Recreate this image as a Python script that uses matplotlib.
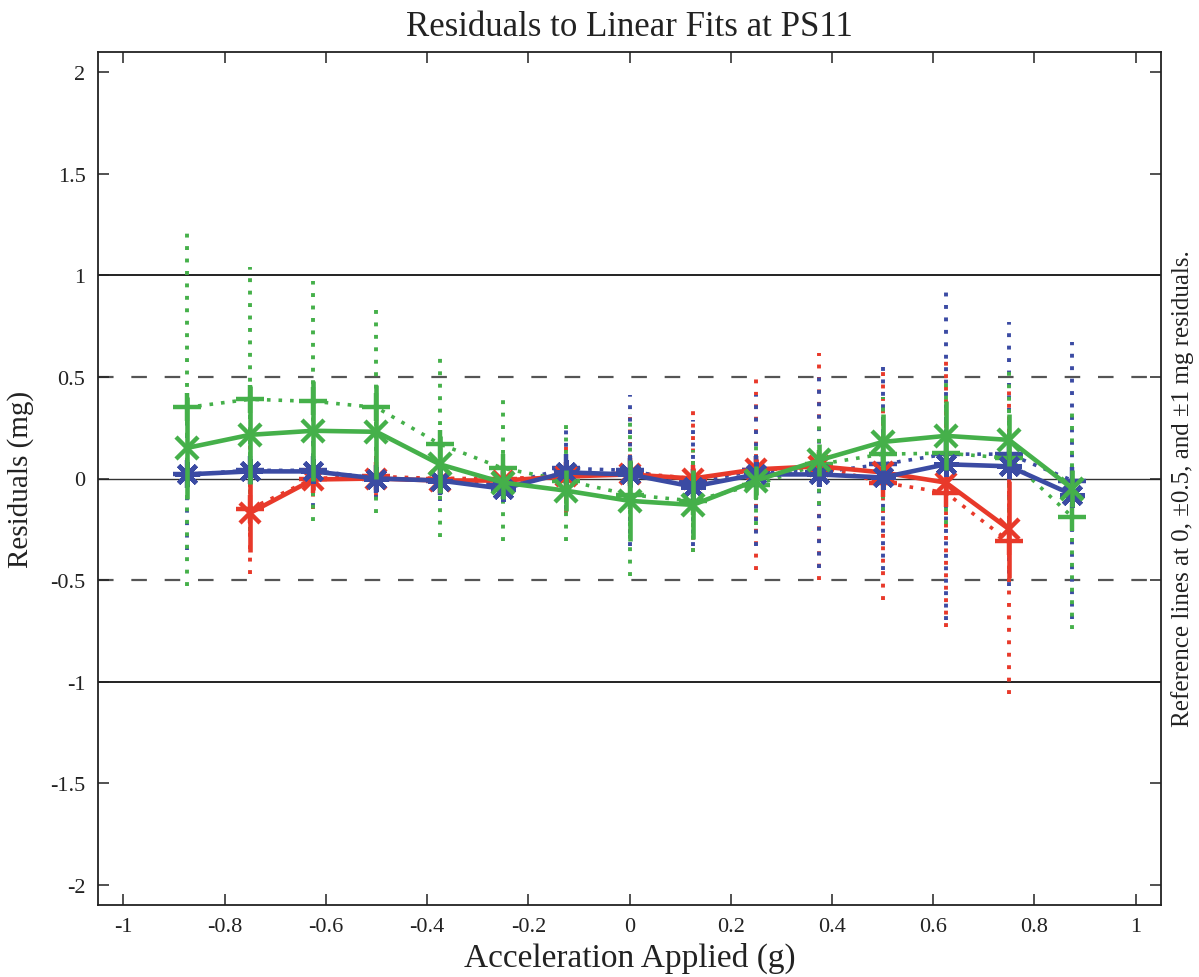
import numpy as np
import matplotlib
matplotlib.use("Agg")
import matplotlib.pyplot as plt

plt.rcParams['font.family'] = ['Liberation Serif', 'DejaVu Serif']
plt.rcParams['axes.unicode_minus'] = False

# ---------------- data ----------------
accel = [-0.875, -0.75, -0.625, -0.5, -0.375, -0.25, -0.125, 0.0,
         0.125, 0.25, 0.375, 0.5, 0.625, 0.75, 0.875]

green_solid = [0.15, 0.215, 0.235, 0.23, 0.07, -0.02, -0.06, -0.11,
               -0.13, -0.01, 0.09, 0.18, 0.21, 0.19, -0.05]
green_solid_err = [0.25, 0.24, 0.245, 0.23, 0.14, 0.08, 0.10, 0.20,
                   0.17, 0.07, 0.08, 0.14, 0.17, 0.13, 0.09]
green_dot = [0.35, 0.39, 0.38, 0.35, 0.17, 0.05, -0.01, -0.08,
             -0.11, -0.03, 0.07, 0.12, 0.125, 0.10, -0.19]
green_dot_err = [0.88, 0.65, 0.59, 0.52, 0.46, 0.36, 0.30, 0.40,
                 0.25, 0.20, 0.20, 0.28, 0.35, 0.45, 0.55]

blue_solid = [0.02, 0.035, 0.035, 0.0, -0.01, -0.05, 0.03, 0.02,
              -0.04, 0.02, 0.02, 0.005, 0.07, 0.06, -0.08]
blue_solid_err = [0.05, 0.05, 0.05, 0.04, 0.04, 0.04, 0.05, 0.06,
                  0.05, 0.05, 0.05, 0.05, 0.06, 0.06, 0.06]
blue_dot = [0.02, 0.04, 0.04, 0.0, -0.01, -0.03, 0.05, 0.04,
            -0.02, 0.04, 0.03, 0.07, 0.12, 0.12, -0.01]
blue_dot_err = [0.37, 0.30, 0.18, 0.10, 0.10, 0.08, 0.20, 0.37,
                0.31, 0.37, 0.47, 0.52, 0.815, 0.65, 0.68]

red_solid = [np.nan, -0.17, -0.005, 0.0, -0.01, -0.01, 0.01, 0.02,
             0.0, 0.045, 0.06, 0.03, -0.02, -0.25, np.nan]
red_solid_err = [np.nan, 0.19, 0.05, 0.04, 0.04, 0.04, 0.05, 0.06,
                 0.05, 0.05, 0.05, 0.05, 0.06, 0.24, np.nan]
red_dot = [np.nan, -0.15, 0.0, 0.01, 0.0, 0.0, 0.01, 0.03,
           0.0, 0.04, 0.06, -0.02, -0.07, -0.31, np.nan]
red_dot_err = [np.nan, 0.32, 0.15, 0.10, 0.08, 0.08, 0.18, 0.30,
               0.36, 0.49, 0.56, 0.58, 0.66, 0.75, np.nan]

x_ticks = [-1, -0.8, -0.6, -0.4, -0.2, 0, 0.2, 0.4, 0.6, 0.8, 1]
y_ticks = [-2, -1.5, -1, -0.5, 0, 0.5, 1, 1.5, 2]

RED = '#e8392a'
BLUE = '#3b4ba3'
GREEN = '#45b04a'

# ---------------- figure ----------------
fig = plt.figure(figsize=(11.99, 9.78), dpi=100)
ax = fig.add_axes([98 / 1199, 72 / 978, (1161 - 98) / 1199, (906 - 53) / 978])

# reference lines
ax.axhline(0, color='#333333', lw=1.0, zorder=1)
for v in (1, -1):
    ax.axhline(v, color='#222222', lw=1.4, zorder=1)
for v in (0.5, -0.5):
    ax.axhline(v, color='#555555', lw=1.6, ls=(0, (7, 8)), zorder=1)

DOT = (0, (1, 2.2))


def dotted_series(y, err, color, z):
    eb = ax.errorbar(accel, y, yerr=err, color=color, lw=2.6, ls=DOT,
                     marker='+', ms=20, mew=3.2, elinewidth=2.8,
                     capsize=0, zorder=z)
    for c in eb[2]:
        c.set_linestyle(DOT)
        c.set_zorder(z - 1)


def solid_series(y, err, color, marker, ms, z):
    ax.errorbar(accel, y, yerr=err, color=color, lw=3.3, ls='-',
                marker=marker, ms=ms, mew=3.2, elinewidth=3.3,
                capsize=0, zorder=z)


dotted_series(red_dot, red_dot_err, RED, 3)
dotted_series(blue_dot, blue_dot_err, BLUE, 3.2)
dotted_series(green_dot, green_dot_err, GREEN, 3.4)

solid_series(red_solid, red_solid_err, RED, 'x', 15, 5)
solid_series(blue_solid, blue_solid_err, BLUE, (8, 2, 0), 18, 5.2)
solid_series(green_solid, green_solid_err, GREEN, 'x', 16, 5.4)

# axes styling
ax.set_xlim(-1.05, 1.05)
ax.set_ylim(-2.1, 2.1)
ax.set_xticks(x_ticks)
ax.set_xticklabels(['%g' % t for t in x_ticks])
ax.set_yticks(y_ticks)
ax.set_yticklabels(['%g' % t for t in y_ticks])
ax.tick_params(direction='in', length=8, width=1.1, top=True, right=True,
               labelsize=16, pad=9, colors='#222222')
for s in ax.spines.values():
    s.set_linewidth(1.3)
    s.set_color('#222222')

ax.set_title('Residuals to Linear Fits at PS11', fontsize=25, pad=12,
             color='#222222')
ax.set_xlabel('Acceleration Applied (g)', fontsize=24, labelpad=4,
              color='#222222')
ax.set_ylabel('Residuals (mg)', fontsize=21, labelpad=12, color='#222222')

fig.text(1183 / 1199, 0.5, 'Reference lines at 0, \u00b10.5, and \u00b11 mg residuals.',
         rotation=90, fontsize=18, ha='center', va='center', color='#222222')

fig.savefig('out.png', dpi=100)
